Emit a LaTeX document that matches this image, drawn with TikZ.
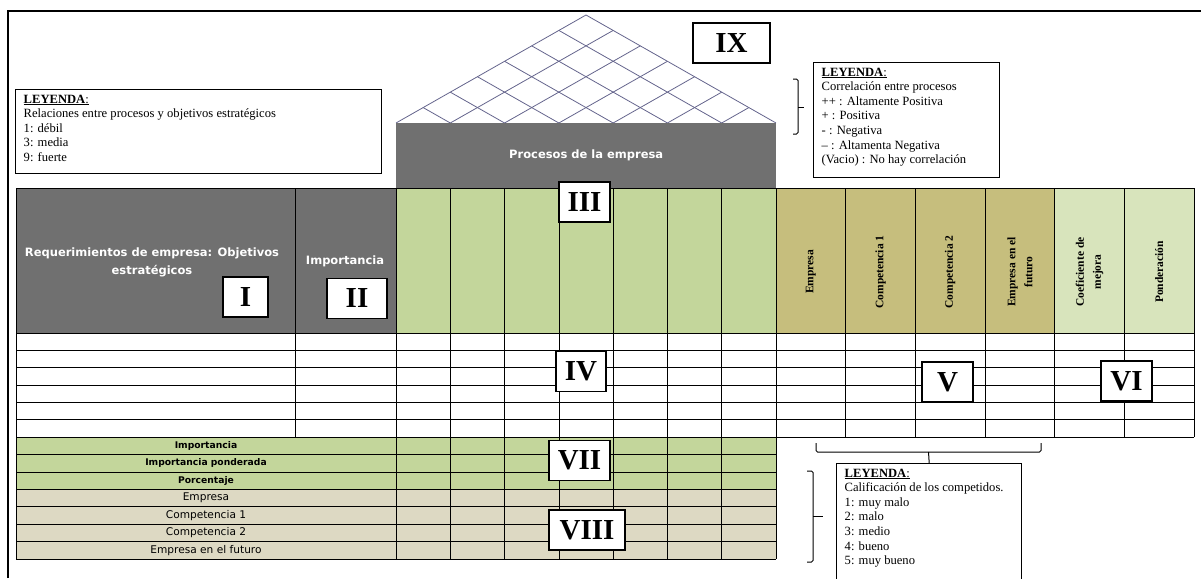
\documentclass[tikz,border=0pt]{standalone}
\usepackage{fontspec}
\setmainfont{Liberation Serif}
\setsansfont{DejaVu Sans}
\usetikzlibrary{positioning}

\definecolor{headgray}{RGB}{112,112,112}
\definecolor{procgreen}{RGB}{195,214,155}
\definecolor{compkhaki}{RGB}{198,190,125}
\definecolor{mejgreen}{RGB}{216,228,188}
\definecolor{rowbeige}{RGB}{221,217,195}
\definecolor{roofline}{RGB}{100,100,140}

\begin{document}
\begin{tikzpicture}[x=1pt, y=-1pt,
	cell/.style={draw=black, line width=0.7pt},
	numbox/.style={draw, line width=1.6pt, fill=white, minimum height=40pt, inner sep=0pt,
		font=\fontsize{29}{30}\selectfont\bfseries},
	legendbox/.style={draw, line width=1.4pt, fill=white, inner xsep=8pt, inner ysep=5pt,
		anchor=north west, font=\fontsize{12.6}{14.6}\selectfont},
	headtxt/.style={text=white, align=center, font=\sffamily\bfseries\fontsize{11.5}{18}\selectfont},
	vtxt/.style={rotate=90, align=center, font=\bfseries\fontsize{11.5}{17}\selectfont},
	rowtxt/.style={font=\sffamily\fontsize{10.6}{12}\selectfont},
	rowbold/.style={font=\sffamily\bfseries\fontsize{9.2}{12}\selectfont},
	brace/.style={line width=1pt, rounded corners=1.5pt}]

	\useasboundingbox (0,0) rectangle (1201,578);

	% marco
	\draw[line width=1.5pt] (8,578) -- (8,11) -- (1201,11);

	% techo
	\begin{scope}
		\clip (396,123) -- (586,15) -- (776,123) -- cycle;
		\foreach \i in {1,...,6} {
			\pgfmathsetmacro\xb{396+\i*380/7}
			\draw[roofline, line width=0.8pt] (\xb,123) -- ++(190,-108);
			\draw[roofline, line width=0.8pt] (\xb,123) -- ++(-190,-108);
		}
	\end{scope}
	\draw[roofline, line width=0.8pt] (396,123) -- (586,15) -- (776,123);

	\node[fill=headgray, minimum width=380pt, minimum height=65pt, inner sep=0pt, anchor=north west, headtxt,
		font=\sffamily\bfseries\fontsize{11.5}{14}\selectfont] (procesos) at (396,123) {Procesos de la empresa};

	% cabecera
	\fill[headgray] (16,188) rectangle (396,333);
	\fill[procgreen] (396,188) rectangle (776,333);
	\fill[compkhaki] (776,188) rectangle (1054,333);
	\fill[mejgreen] (1054,188) rectangle (1194,333);
	\fill[procgreen] (16,437) rectangle (776,{437+3*122/7});
	\fill[rowbeige] (16,{437+3*122/7}) rectangle (776,559);

	% cuadricula
	\draw[cell] (16,188) -- (1194,188);
	\foreach \k in {0,...,6}
		\draw[cell] (16,{333+\k*104/6}) -- (1194,{333+\k*104/6});
	\foreach \k in {1,...,7}
		\draw[cell] (16,{437+\k*122/7}) -- (776,{437+\k*122/7});
	\draw[cell] (16,188) -- (16,559);
	\draw[cell] (295,188) -- (295,437);
	\foreach \i in {0,...,7}
		\draw[cell] ({396+\i*380/7},188) -- ({396+\i*380/7},559);
	\foreach \i in {1,...,6}
		\draw[cell] ({776+\i*418/6},188) -- ({776+\i*418/6},437);

	% textos
	\node[headtxt] (req) at (152,262) {Requerimientos de empresa: Objetivos\\estratégicos};
	\node[headtxt] (imp) at (345,261) {Importancia};
	\foreach \i/\t in {0/Empresa, 1/Competencia 1, 2/Competencia 2, 3/{Empresa en el\\futuro},
		4/{Coeficiente de\\mejora}, 5/Ponderación}
		\node[vtxt] (col\i) at ({776+(\i+0.5)*418/6},272) {\t};
	\foreach \k/\t in {0/Importancia, 1/Importancia ponderada, 2/Porcentaje}
		\node[rowbold] (fila\k) at (206,{437+(\k+0.5)*122/7}) {\t};
	\foreach \k/\t in {3/Empresa, 4/Competencia 1, 5/Competencia 2, 6/Empresa en el futuro}
		\node[rowtxt] (fila\k) at (206,{437+(\k+0.5)*122/7}) {\t};

	% numeros romanos
	\node[numbox, minimum width=45pt] (nI) at (245.5,297) {I};
	\node[numbox, minimum width=60pt] (nII) at (357,298.5) {II};
	\node[numbox, minimum width=51pt] (nIII) at (584.5,202) {III};
	\node[numbox, minimum width=50pt] (nIV) at (581,371.5) {IV};
	\node[numbox, minimum width=51pt] (nV) at (947.5,382) {V};
	\node[numbox, minimum width=51pt] (nVI) at (1126.5,381) {VI};
	\node[numbox, minimum width=61pt] (nVII) at (579.5,460.5) {VII};
	\node[numbox, minimum width=76pt] (nVIII) at (587,530) {VIII};
	\node[numbox, minimum width=77pt] (nIX) at (731.5,43) {IX};

	% leyendas
	\node[legendbox] (legRel) at (15,89) {\parbox[t][74pt][t]{350pt}{\underline{\textbf{LEYENDA}:}\\
		Relaciones entre procesos y objetivos estratégicos\\1: débil\\3: media\\9: fuerte}};
	\node[legendbox] (legCorr) at (813,62) {\parbox[t][105pt][t]{170pt}{\underline{\textbf{LEYENDA}:}\\
		Correlación entre procesos\\++ : Altamente Positiva\\+ : Positiva\\- : Negativa\\
		-- : Altamenta Negativa\\(Vacio) : No hay correlación}};
	\node[legendbox] (legCalif) at (836,463) {\parbox[t][130pt][t]{169pt}{\underline{\textbf{LEYENDA}:}\\
		Calificación de los competidos.\\1: muy malo\\2: malo\\3: medio\\4: bueno\\5: muy bueno}};

	% llaves
	\draw[brace] (793,79) -- (798,79) -- (798,134) -- (793,134);
	\draw[brace] (798,107) -- (804,107);
	\coordinate (bcM) at (928.5,452);
	\draw[brace] (816,443) -- (816,452) -- (1041,452) -- (1041,443);
	\draw[line width=1pt] (bcM) -- (legCalif.north);
	\draw[brace] (807,471) -- (813,471) -- (813,562) -- (807,562);
	\draw[brace] (813,516) -- (823,516);
\end{tikzpicture}
\end{document}
